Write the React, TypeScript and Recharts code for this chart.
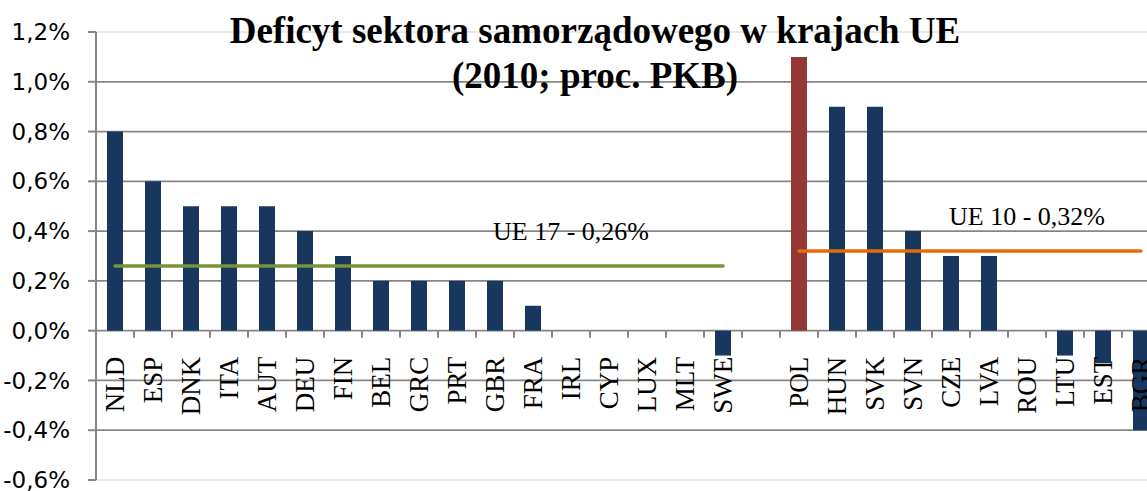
import { BarChart, Bar, Line, XAxis, YAxis, CartesianGrid, ReferenceLine, Cell } from "recharts";

const ue17Countries = ["NLD", "ESP", "DNK", "ITA", "AUT", "DEU", "FIN", "BEL", "GRC", "PRT", "GBR", "FRA", "IRL", "CYP", "LUX", "MLT", "SWE"];
const ue17Values = [0.8, 0.6, 0.5, 0.5, 0.5, 0.4, 0.3, 0.2, 0.2, 0.2, 0.2, 0.1, 0, 0, 0, 0, -0.1];
const ue10Countries = ["POL", "HUN", "SVK", "SVN", "CZE", "LVA", "ROU", "LTU", "EST", "BGR"];
const ue10Values = [1.1, 0.9, 0.9, 0.4, 0.3, 0.3, 0, -0.1, -0.13, -0.4];
const ue17Avg = 0.26;
const ue10Avg = 0.32;
const yTicks = [-0.6, -0.4, -0.2, 0, 0.2, 0.4, 0.6, 0.8, 1.0, 1.2];
const highlight = "POL";

const fmt = (v: number, d: number) => v.toFixed(d).replace(".", ",") + "%";

// one blank slot between the two groups, as in the source sheet
const data = [
  ...ue17Countries.map((name, i) => ({ name, value: ue17Values[i], ue17: ue17Avg, ue10: null })),
  { name: "", value: null, ue17: null, ue10: null },
  ...ue10Countries.map((name, i) => ({ name, value: ue10Values[i], ue17: null, ue10: ue10Avg })),
];

const W = 1165;
const H = 491;
const M = { top: 32, right: 5, bottom: 0, left: 0 };
const Y_AXIS_W = 96;
const X_AXIS_H = 11;
const plotH = H - M.top - M.bottom - X_AXIS_H;
const zeroY = M.top + (1.2 / 1.8) * plotH;
const band = (W - M.left - M.right - Y_AXIS_W) / data.length;

const gridColor = "#868686";
const serif = "'Liberation Serif', 'Times New Roman', serif";

const CategoryTick = (props: any) => {
  const { x, payload } = props;
  return (
    <g>
      <line x1={x + band / 2} x2={x + band / 2} y1={zeroY} y2={zeroY + 7} stroke={gridColor} strokeWidth={2} />
      <text
        transform={`translate(${x + 9},${zeroY + 26}) rotate(-90)`}
        textAnchor="end"
        fontFamily={serif}
        fontSize={27}
        fill="#000"
      >
        {payload.value}
      </text>
    </g>
  );
};

const avgLabel = (at: number, text: string) => (props: any) => {
  if (props.index !== at) return <g />;
  return (
    <text x={props.x} y={props.y - 26} textAnchor="middle" fontFamily={serif} fontSize={26} fill="#000">
      {text}
    </text>
  );
};

export default function App() {
  return (
    <div style={{ position: "absolute", left: 0, top: 0, width: 1147, height: 491, overflow: "hidden", background: "#fff" }}>
      <BarChart width={W} height={H} data={data} margin={M} barSize={16}>
        <CartesianGrid vertical={false} horizontalValues={yTicks.slice(1, -1)} stroke={gridColor} strokeWidth={1.75} />
        <ReferenceLine y={1.2} stroke="#e2e2e2" strokeWidth={1.5} />
        <ReferenceLine y={-0.6} stroke="#e2e2e2" strokeWidth={1.5} />
        <XAxis dataKey="name" interval={0} axisLine={false} tickLine={false} height={X_AXIS_H} tick={<CategoryTick />} />
        <YAxis
          width={Y_AXIS_W}
          domain={[-0.6, 1.2]}
          ticks={yTicks}
          interval={0}
          tickFormatter={(v: number) => fmt(v, 1)}
          axisLine={{ stroke: gridColor, strokeWidth: 2 }}
          tickLine={{ stroke: gridColor, strokeWidth: 2 }}
          tickSize={8}
          tickMargin={18}
          tick={{ fill: "#000", fontSize: 23, fontFamily: "'DejaVu Sans', sans-serif" }}
        />
        <Bar dataKey="value" fill="#17375E" isAnimationActive={false}>
          {data.map((d) => (
            <Cell key={d.name || "gap"} fill={d.name === highlight ? "#953735" : "#17375E"} />
          ))}
        </Bar>
        <Line
          dataKey="ue17"
          stroke="#77933C"
          strokeWidth={3.5}
          strokeLinecap="round"
          dot={false}
          isAnimationActive={false}
          label={avgLabel(12, `UE 17 - ${fmt(ue17Avg, 2)}`)}
        />
        <Line
          dataKey="ue10"
          stroke="#E46C0A"
          strokeWidth={3.5}
          strokeLinecap="round"
          dot={false}
          isAnimationActive={false}
          label={avgLabel(24, `UE 10 - ${fmt(ue10Avg, 2)}`)}
        />
      </BarChart>
      <svg width={1147} height={100} style={{ position: "absolute", left: 0, top: 0, pointerEvents: "none" }}>
        <text x={595} y={43} textAnchor="middle" fontFamily={serif} fontWeight="bold" fontSize={37} fill="#000">
          Deficyt sektora samorządowego w krajach UE
        </text>
        <text x={595} y={88} textAnchor="middle" fontFamily={serif} fontWeight="bold" fontSize={37} fill="#000">
          (2010; proc. PKB)
        </text>
      </svg>
    </div>
  );
}
